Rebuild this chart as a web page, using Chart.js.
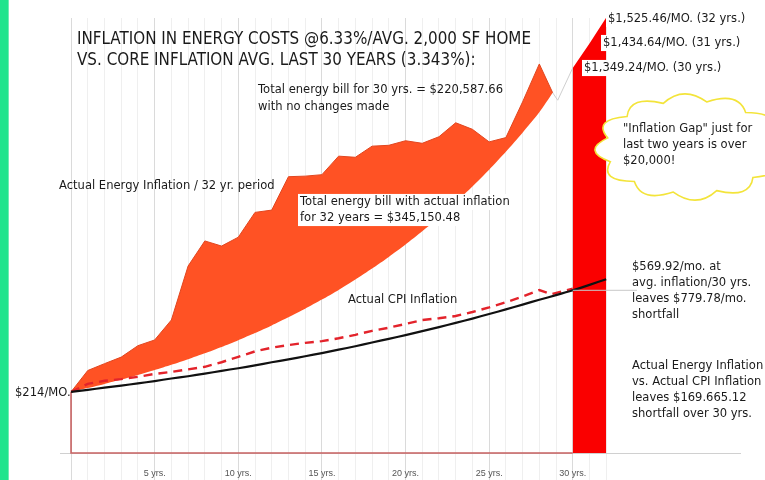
<!DOCTYPE html>
<html>
<head>
<meta charset="utf-8">
<script src="https://cdn.jsdelivr.net/npm/chart.js@4.4.1/dist/chart.umd.min.js"></script>
<style>
  html, body { margin: 0; padding: 0; background: #fff; }
  #grafico { display: block; }
</style>
</head>
<body>
<canvas id="grafico" width="765" height="480"></canvas>
<script>
// Dados (valores mensais em $)
const anosEnergia = [0, 1, 2, 3, 4, 5, 6, 7, 8, 9, 10, 11, 12, 13, 14, 15, 16, 17, 18, 19, 20, 21, 22, 23, 24, 25, 26, 27, 28, 28.8];
const energiaReal = [214, 289, 313, 336, 376, 396, 466, 655, 743, 725, 756, 843, 851, 968, 970, 975, 1040, 1036, 1075, 1078, 1094, 1085, 1108, 1157, 1134, 1090, 1105, 1230, 1363, 1262];
const energiaMedia = [214, 227.5, 241.9, 257.2, 273.5, 290.9, 309.2, 328.8, 349.6, 371.8, 395.4, 420.4, 447.0, 475.3, 505.4, 537.4, 571.4, 607.6, 646.0, 686.9, 730.4, 776.6, 825.8, 878.0, 933.6, 992.7, 1055.5, 1122.3, 1193.4, 1262];

const anosBarra = [30, 31, 32];
const valoresBarra = [1349.24, 1434.64, 1525.46];

const anosCpiReal = [0, 1, 2, 3, 4, 5, 6, 7, 8, 9, 10, 11, 12, 13, 14, 15, 16, 17, 18, 19, 20, 21, 22, 23, 24, 25, 26, 27, 28, 28.7, 30];
const cpiReal = [214, 242, 253, 259, 267, 277, 284, 293, 302, 318, 337, 356, 369, 378, 386, 392, 402, 414, 428, 439, 452, 466, 472, 480, 494, 510, 528, 548, 571, 556, 576];

const anosCpiMedia = [0, 1, 2, 3, 4, 5, 6, 7, 8, 9, 10, 11, 12, 13, 14, 15, 16, 17, 18, 19, 20, 21, 22, 23, 24, 25, 26, 27, 28, 29, 30, 31, 32];
const cpiMedia = [214, 221, 229, 236, 244, 252, 261, 269, 278, 288, 297, 307, 318, 328, 339, 350, 362, 374, 387, 400, 413, 427, 441, 456, 471, 487, 503, 520, 537, 553, 570, 589, 609];

// contorno cinza entre a area laranja e a barra vermelha
const anosContorno = [28.8, 29.1, 30];
const valoresContorno = [1262, 1236, 1349.24];

// base de $214/MO.
const anosBase = [0, 0, 30];
const valoresBase = [214, 0, 0];

const anosGrade = [0, 1, 2, 3, 4, 5, 6, 7, 8, 9, 10, 11, 12, 13, 14, 15, 16, 17, 18, 19, 20, 21, 22, 23, 24, 25, 26, 27, 28, 29, 30, 31, 32];
const rotulosAnos = { 5: '5 yrs.', 10: '10 yrs.', 15: '15 yrs.', 20: '20 yrs.', 25: '25 yrs.', 30: '30 yrs.' };

// Montar pontos {x, y}
function pontos(anos, valores) {
  return anos.map((a, i) => ({ x: a, y: valores[i] }));
}

// Textos do grafico: [texto, x, y (centro), tipo, fundo branco]
const textos = [
  ['INFLATION IN ENERGY COSTS @6.33%/AVG. 2,000 SF HOME', 77, 40, 'titulo', false],
  ['VS. CORE INFLATION AVG. LAST 30 YEARS (3.343%):', 77, 61, 'titulo', false],
  ['Total energy bill for 30 yrs. = $220,587.66', 258, 90, 'nota', false],
  ['with no changes made', 258, 107, 'nota', false],
  ['Actual Energy Inflation / 32 yr. period', 59, 186, 'nota', false],
  ['Total energy bill with actual inflation', 300, 202, 'nota', true],
  ['for 32 years = $345,150.48', 300, 218, 'nota', true],
  ['$1,525.46/MO. (32 yrs.)', 608, 19, 'nota', true],
  ['$1,434.64/MO. (31 yrs.)', 603, 43, 'nota', true],
  ['$1,349.24/MO. (30 yrs.)', 584, 68, 'nota', true],
  ['"Inflation Gap" just for', 623, 129, 'nota', false],
  ['last two years is over', 623, 145, 'nota', false],
  ['$20,000!', 623, 161, 'nota', false],
  ['$569.92/mo. at', 632, 267, 'nota', false],
  ['avg. inflation/30 yrs.', 632, 283, 'nota', false],
  ['leaves $779.78/mo.', 632, 299, 'nota', false],
  ['shortfall', 632, 315, 'nota', false],
  ['Actual Energy Inflation', 632, 366, 'nota', false],
  ['vs. Actual CPI Inflation', 632, 382, 'nota', false],
  ['leaves $169.665.12', 632, 398, 'nota', false],
  ['shortfall over 30 yrs.', 632, 414, 'nota', false],
  ['Actual CPI Inflation', 348, 300, 'nota', false],
  ['$214/MO.', 15, 393, 'nota', false]
];

// Fonte e largura de referencia de cada tipo (linha medida na imagem)
const estilos = {
  titulo: { tam: 17, ref: 'INFLATION IN ENERGY COSTS @6.33%/AVG. 2,000 SF HOME', largura: 454 },
  nota: { tam: 13, ref: 'Total energy bill for 30 yrs. = $220,587.66', largura: 245 }
};

// Escrever texto com a mesma compressao horizontal do tipo
function escrever(ctx, t) {
  const [txt, x, y, tipo, fundo] = t;
  const est = estilos[tipo];
  ctx.save();
  ctx.font = est.tam + 'px "DejaVu Sans"';
  ctx.textBaseline = 'middle';
  const escala = est.largura / ctx.measureText(est.ref).width;
  const w = ctx.measureText(txt).width * escala;
  if (fundo) {
    ctx.fillStyle = '#ffffff';
    ctx.fillRect(x - 2, y - est.tam * 0.62, w + 4, est.tam * 1.24);
  }
  ctx.translate(x, y);
  ctx.scale(escala, 1);
  ctx.fillStyle = '#1a1a1a';
  ctx.fillText(txt, 0, 0);
  ctx.restore();
}

// Nuvem amarela
function nuvem(ctx, cx, cy, rx, ry, n) {
  ctx.save();
  ctx.beginPath();
  for (let i = 0; i <= n; i++) {
    const a = (i / n) * Math.PI * 2 + 0.2;
    const px = cx + rx * Math.cos(a);
    const py = cy + ry * Math.sin(a);
    if (i === 0) {
      ctx.moveTo(px, py);
    } else {
      const am = ((i - 0.5) / n) * Math.PI * 2 + 0.2;
      ctx.quadraticCurveTo(cx + rx * 1.3 * Math.cos(am), cy + ry * 1.35 * Math.sin(am), px, py);
    }
  }
  ctx.closePath();
  ctx.fillStyle = '#ffffff';
  ctx.fill();
  ctx.strokeStyle = '#F3E43A';
  ctx.lineWidth = 1.6;
  ctx.stroke();
  ctx.restore();
}

const pluginFundo = {
  id: 'fundo',
  beforeDraw(chart) {
    const ctx = chart.ctx;
    ctx.save();
    ctx.fillStyle = '#ffffff';
    ctx.fillRect(0, 0, chart.width, chart.height);
    // faixa verde a esquerda
    ctx.fillStyle = '#1FE48D';
    ctx.fillRect(0, 0, 9, chart.height);
    ctx.fillStyle = 'rgba(255,255,255,0.35)';
    ctx.fillRect(8, 0, 1, chart.height);
    ctx.restore();
  },
  afterDraw(chart) {
    const ctx = chart.ctx;
    const xs = chart.scales.x;
    const ys = chart.scales.y;
    // linha de ligacao ao rotulo $569.92
    const yLig = ys.getPixelForValue(cpiMedia[30]);
    ctx.save();
    ctx.strokeStyle = '#c8c8c8';
    ctx.lineWidth = 1;
    ctx.beginPath();
    ctx.moveTo(xs.getPixelForValue(30), yLig);
    ctx.lineTo(637, yLig);
    ctx.stroke();
    ctx.restore();

    nuvem(ctx, 690, 147, 84, 46, 12);
    textos.forEach(t => escrever(ctx, t));
  }
};

const ctx = document.getElementById('grafico').getContext('2d');
new Chart(ctx, {
  type: 'line',
  data: {
    datasets: [
      {
        label: 'CPI media 3.343%',
        data: pontos(anosCpiMedia, cpiMedia),
        borderColor: '#111111',
        borderWidth: 2.2,
        pointRadius: 0,
        tension: 0.2,
        fill: false,
        clip: 6
      },
      {
        label: 'Actual CPI Inflation',
        data: pontos(anosCpiReal, cpiReal),
        borderColor: '#E3232B',
        borderWidth: 2.4,
        borderDash: [9, 6],
        pointRadius: 0,
        fill: false,
        clip: 6
      },
      {
        label: 'Actual Energy Inflation',
        data: pontos(anosEnergia, energiaReal),
        borderColor: '#E2461F',
        borderWidth: 1,
        backgroundColor: '#FF5224',
        pointRadius: 0,
        fill: '+1',
        clip: 6
      },
      {
        label: 'Energia 6.33%',
        data: pontos(anosEnergia, energiaMedia),
        borderColor: 'rgba(0,0,0,0)',
        borderWidth: 0,
        pointRadius: 0,
        tension: 0.2,
        fill: false
      },
      {
        label: 'contorno',
        data: pontos(anosContorno, valoresContorno),
        borderColor: '#cfcfcf',
        borderWidth: 1,
        pointRadius: 0,
        fill: false
      },
      {
        label: '30-32 yrs.',
        data: pontos(anosBarra, valoresBarra),
        borderWidth: 0,
        borderColor: '#FA0000',
        backgroundColor: '#FA0000',
        pointRadius: 0,
        fill: 'origin',
        clip: false
      },
      {
        label: 'base',
        data: pontos(anosBase, valoresBase),
        borderColor: '#C86262',
        borderWidth: 1.6,
        pointRadius: 0,
        fill: false,
        clip: 6
      }
    ]
  },
  options: {
    responsive: false,
    animation: false,
    layout: { padding: { left: 60, right: 25, top: 18, bottom: 0 } },
    plugins: {
      legend: { display: false },
      tooltip: { enabled: false }
    },
    scales: {
      x: {
        type: 'linear',
        min: -0.66,
        max: 40,
        afterBuildTicks: axis => {
          axis.ticks = anosGrade.map(v => ({ value: v }));
        },
        afterFit: axis => {
          axis.height = 27;
        },
        grid: {
          color: c => (c.tick && c.tick.value % 5 === 0) ? '#dadada' : '#efefef',
          lineWidth: 1,
          tickLength: 27,
          drawTicks: true
        },
        border: { color: '#d0d0d0', width: 1 },
        ticks: {
          autoSkip: false,
          maxRotation: 0,
          padding: -12,
          color: '#555555',
          font: { family: '"Liberation Sans"', size: 9 },
          callback: v => rotulosAnos[v] || ''
        }
      },
      y: {
        display: false,
        min: 0,
        max: 1524
      }
    }
  },
  plugins: [pluginFundo]
});
</script>
</body>
</html>
